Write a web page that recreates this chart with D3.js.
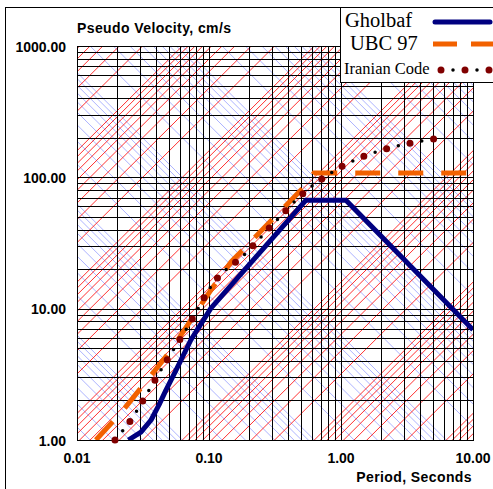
<!DOCTYPE html>
<html>
<head>
<meta charset="utf-8">
<script src="https://cdn.jsdelivr.net/npm/d3@7/dist/d3.min.js"></script>
<style>
  html, body { margin: 0; padding: 0; background: #fff; }
  svg { display: block; }
</style>
</head>
<body>
<svg id="chart" width="493" height="489"></svg>
<script>
// ---- data ----
const periodTicks = [0.01, 0.1, 1, 10];
const periodTickLabels = ["0.01", "0.10", "1.00", "10.00"];
const velocityTicks = [1, 10, 100, 1000];
const velocityTickLabels = ["1.00", "10.00", "100.00", "1000.00"];
const gridMultipliers = [1, 2, 3, 4, 5, 6, 7, 8, 9];
const accelDecades = [-1, 0, 1, 2, 3, 4, 5, 6];   // constant pseudo-acceleration lines (cm/s^2)
const dispDecades = [-4, -3, -2, -1, 0, 1, 2, 3];  // constant displacement lines (cm)

const seriesNames = ["Gholbaf", "UBC 97", "Iranian Code"];
const gholbafT = [0.0245, 0.0305, 0.0364, 0.0418, 0.0472, 0.0563, 0.073, 0.1035, 0.543, 1.09, 10];
const gholbafV = [1.0, 1.15, 1.42, 1.85, 2.4, 3.4, 5.8, 10.1, 67, 67, 6.9];
const ubcT = [0.0139, 0.0215, 0.0333, 0.0516, 0.1036, 0.147, 0.27, 0.525, 0.624, 10];
const ubcV = [1.0, 1.61, 2.77, 4.85, 13.9, 22.7, 42.6, 84.5, 108, 108];
const iranT = [0.0194, 0.0266, 0.0328, 0.0481, 0.0718, 0.1054, 0.1874, 0.327, 0.543, 0.84, 5.06];
const iranV = [1.0, 1.5, 2.13, 4.07, 7.78, 15.2, 26.1, 47.4, 78.8, 108, 196];

// ---- layout ----
const svg = d3.select("#chart");
const L = 77, R = 473, T = 46, B = 440;
const x = d3.scaleLog().domain([0.01, 10]).range([L, R]);
const y = d3.scaleLog().domain([1, 1000]).range([B, T]);

// outer frame
svg.append("rect").attr("x", 5.5).attr("y", 7.5).attr("width", 520).attr("height", 520)
  .attr("fill", "#fff").attr("stroke", "#000").attr("stroke-width", 1);

svg.append("defs").append("clipPath").attr("id", "plotclip")
  .append("rect").attr("x", L).attr("y", T).attr("width", R - L).attr("height", B - T);

const plot = svg.append("g").attr("clip-path", "url(#plotclip)");
const line = d3.line().x(d => x(d[0])).y(d => y(d[1]));

// diagonal lines: displacement (blue) then acceleration (red)
const tEnds = [0.001, 100];
const blueG = plot.append("g").attr("fill", "none").attr("stroke", "#a4aaff").attr("stroke-width", 0.9);
dispDecades.forEach(k => gridMultipliers.forEach(m => {
  const D = m * Math.pow(10, k);
  blueG.append("path").attr("d", line(tEnds.map(t => [t, 2 * Math.PI * D / t])));
}));
const redG = plot.append("g").attr("fill", "none").attr("stroke", "#ff0d0d").attr("stroke-width", 0.85);
accelDecades.forEach(k => gridMultipliers.forEach(m => {
  const A = m * Math.pow(10, k);
  redG.append("path").attr("d", line(tEnds.map(t => [t, A * t / (2 * Math.PI)])));
}));

// black log grid
const gridG = svg.append("g").attr("stroke", "#000").attr("stroke-width", 1).attr("shape-rendering", "crispEdges");
[0.01, 0.1, 1].forEach(d => gridMultipliers.forEach(m => {
  const xv = Math.round(x(d * m)) + 0.5;
  gridG.append("line").attr("x1", xv).attr("x2", xv).attr("y1", T).attr("y2", B);
}));
[1, 10, 100].forEach(d => gridMultipliers.forEach(m => {
  const yv = Math.round(y(d * m)) + 0.5;
  gridG.append("line").attr("x1", L).attr("x2", R).attr("y1", yv).attr("y2", yv);
}));
svg.append("rect").attr("x", L + 0.5).attr("y", T + 0.5).attr("width", R - L).attr("height", B - T)
  .attr("fill", "none").attr("stroke", "#000").attr("stroke-width", 1);

// series
const seriesG = svg.append("g").attr("clip-path", "url(#plotclip)");
seriesG.append("path").attr("d", line(gholbafT.map((t, i) => [t, gholbafV[i]])))
  .attr("fill", "none").attr("stroke", "#000080").attr("stroke-width", 5).attr("stroke-linejoin", "round");
seriesG.append("path").attr("d", line(ubcT.map((t, i) => [t, ubcV[i]])))
  .attr("fill", "none").attr("stroke", "#f26100").attr("stroke-width", 5).attr("stroke-dasharray", "25 18");
const iranPath = d3.line().x(d => x(d[0])).y(d => y(d[1])).curve(d3.curveMonotoneX)(iranT.map((t, i) => [t, iranV[i]]));
svg.append("path").attr("d", iranPath).attr("fill", "none").attr("stroke", "#800000")
  .attr("stroke-width", 7).attr("stroke-linecap", "round").attr("stroke-dasharray", "0 24");
svg.append("path").attr("d", iranPath).attr("fill", "none").attr("stroke", "#000")
  .attr("stroke-width", 3.5).attr("stroke-linecap", "round").attr("stroke-dasharray", "0 24")
  .attr("stroke-dashoffset", 12);

// axis labels
const sans = "'Liberation Sans', Arial, sans-serif";
const lab = svg.append("g").attr("font-family", sans).attr("font-weight", "bold").attr("font-size", 14);
velocityTicks.forEach((v, i) => {
  lab.append("text").attr("x", 66).attr("y", y(v) + 5.5).attr("text-anchor", "end").text(velocityTickLabels[i]);
});
periodTicks.forEach((t, i) => {
  lab.append("text").attr("x", x(t)).attr("y", 463).attr("text-anchor", "middle").text(periodTickLabels[i]);
});
lab.append("text").attr("x", 77).attr("y", 33).attr("letter-spacing", 0.4)
  .text("Pseudo Velocity, cm/s");
lab.append("text").attr("x", 472).attr("y", 482).attr("letter-spacing", 0.4)
  .attr("text-anchor", "end").text("Period, Seconds");

// legend
const leg = svg.append("g");
leg.append("rect").attr("x", 340.5).attr("y", 7.5).attr("width", 200).attr("height", 75)
  .attr("fill", "#fff").attr("stroke", "#000").attr("stroke-width", 1);
const serif = "'Liberation Serif', 'Times New Roman', serif";
leg.append("text").attr("x", 345).attr("y", 27).attr("font-family", serif).attr("font-size", 20.5).text(seriesNames[0]);
leg.append("text").attr("x", 350).attr("y", 50).attr("font-family", serif).attr("font-size", 20.5).text(seriesNames[1]);
leg.append("text").attr("x", 344).attr("y", 74).attr("font-family", serif).attr("font-size", 16.5).text(seriesNames[2]);
leg.append("line").attr("x1", 435).attr("x2", 490).attr("y1", 22).attr("y2", 22)
  .attr("stroke", "#000080").attr("stroke-width", 5).attr("stroke-linecap", "round");
leg.append("line").attr("x1", 433).attr("x2", 500).attr("y1", 44).attr("y2", 44)
  .attr("stroke", "#f26100").attr("stroke-width", 5).attr("stroke-dasharray", "24 14");
leg.append("line").attr("x1", 441).attr("x2", 500).attr("y1", 70).attr("y2", 70)
  .attr("stroke", "#800000").attr("stroke-width", 7).attr("stroke-linecap", "round").attr("stroke-dasharray", "0 24");
leg.append("line").attr("x1", 441).attr("x2", 500).attr("y1", 70).attr("y2", 70)
  .attr("stroke", "#000").attr("stroke-width", 3.5).attr("stroke-linecap", "round")
  .attr("stroke-dasharray", "0 24").attr("stroke-dashoffset", 12);
</script>
</body>
</html>
